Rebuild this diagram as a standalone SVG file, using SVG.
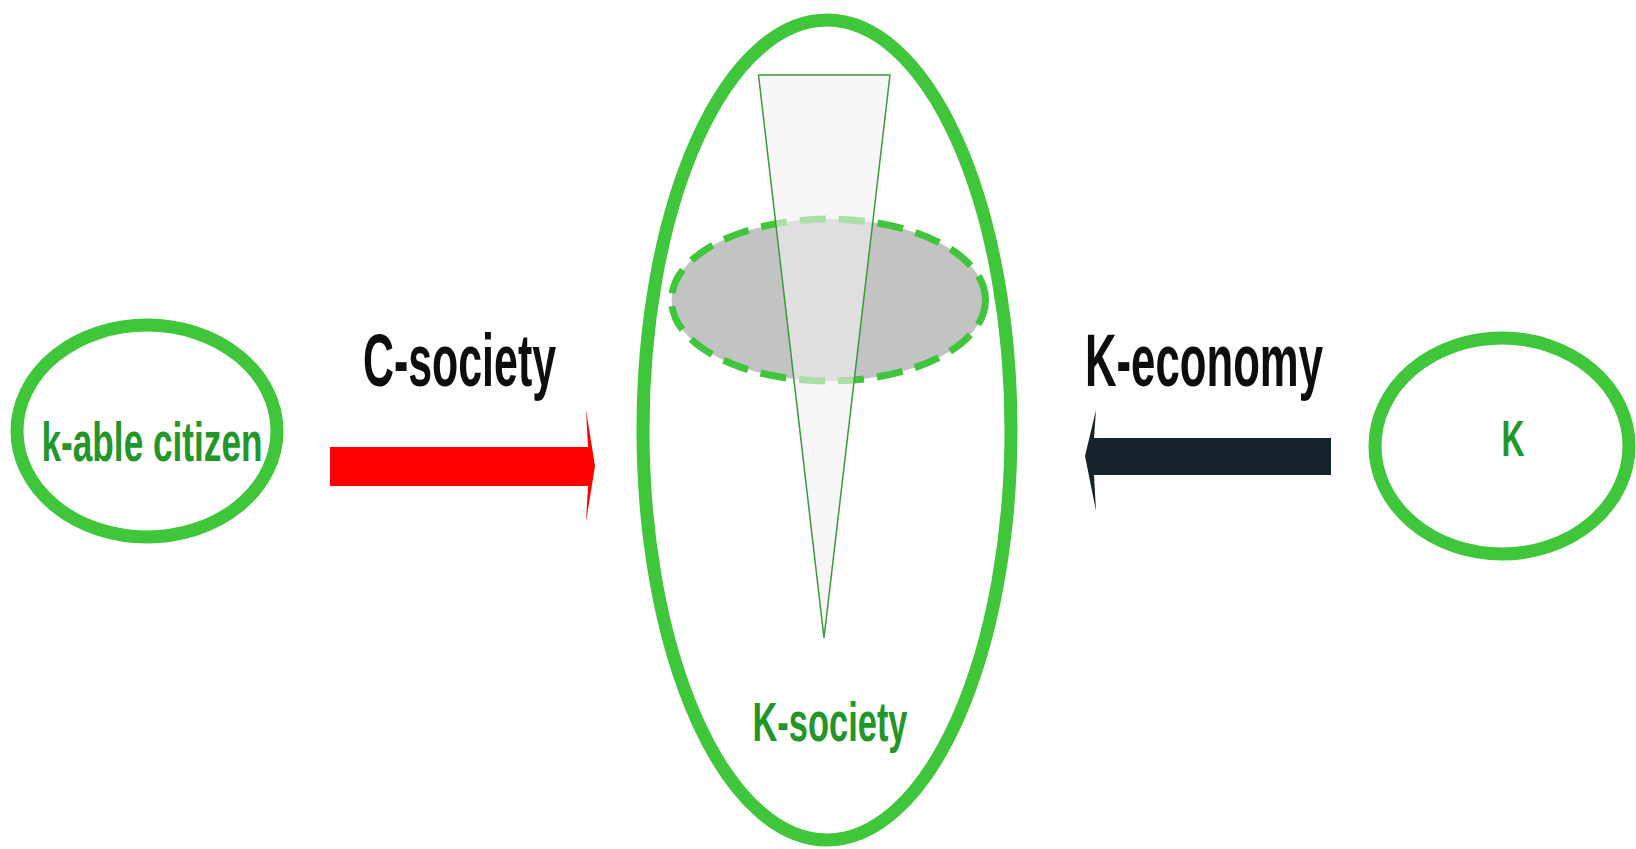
<svg xmlns="http://www.w3.org/2000/svg" width="1636" height="849" viewBox="0 0 1636 849">
<style>
.ring{fill:none;stroke:#3fc63a;stroke-width:13}
.glabel{font-family:"Liberation Sans",Arial,sans-serif;font-weight:bold;fill:#23962a}
.blabel{font-family:"Liberation Sans",Arial,sans-serif;font-weight:bold;fill:#0d0d0d}
</style>
<rect width="1636" height="849" fill="#ffffff"/>
<g id="node-kable">
<ellipse class="ring" cx="147" cy="431" rx="130" ry="106"/>
<text class="glabel" x="152" y="461" font-size="55" text-anchor="middle" textLength="221" lengthAdjust="spacingAndGlyphs">k-able citizen</text>
</g>
<g id="node-ksociety">
<ellipse class="ring" cx="827" cy="430" rx="184" ry="410" stroke-width="14"/>
<ellipse cx="828.5" cy="300" rx="157" ry="81" fill="#c3c3c3" stroke="#3fc63a" stroke-width="7" stroke-dasharray="26 13"/>
<polygon points="758.5,75 890,75 824,638" fill="#f2f2f2" fill-opacity="0.6" stroke="#3a9a3a" stroke-width="1.5"/>
<text class="glabel" x="830" y="741" font-size="55" text-anchor="middle" textLength="155" lengthAdjust="spacingAndGlyphs">K-society</text>
</g>
<g id="node-k">
<ellipse class="ring" cx="1502" cy="446" rx="127" ry="108"/>
<text class="glabel" x="1513" y="456" font-size="50" text-anchor="middle" textLength="23" lengthAdjust="spacingAndGlyphs">K</text>
</g>
<g id="connectors">
<polygon points="330,447 588,447 586,410 595,466 586,522 588,486 330,486" fill="#ff0000"/>
<polygon points="1331,438 1094,438 1096,410 1085,456 1096,511 1094,475 1331,475" fill="#17232a"/>
<text class="blabel" x="459.5" y="386" font-size="74" text-anchor="middle" textLength="193" lengthAdjust="spacingAndGlyphs">C-society</text>
<text class="blabel" x="1204" y="386" font-size="74" text-anchor="middle" textLength="238" lengthAdjust="spacingAndGlyphs">K-economy</text>
</g>
</svg>
